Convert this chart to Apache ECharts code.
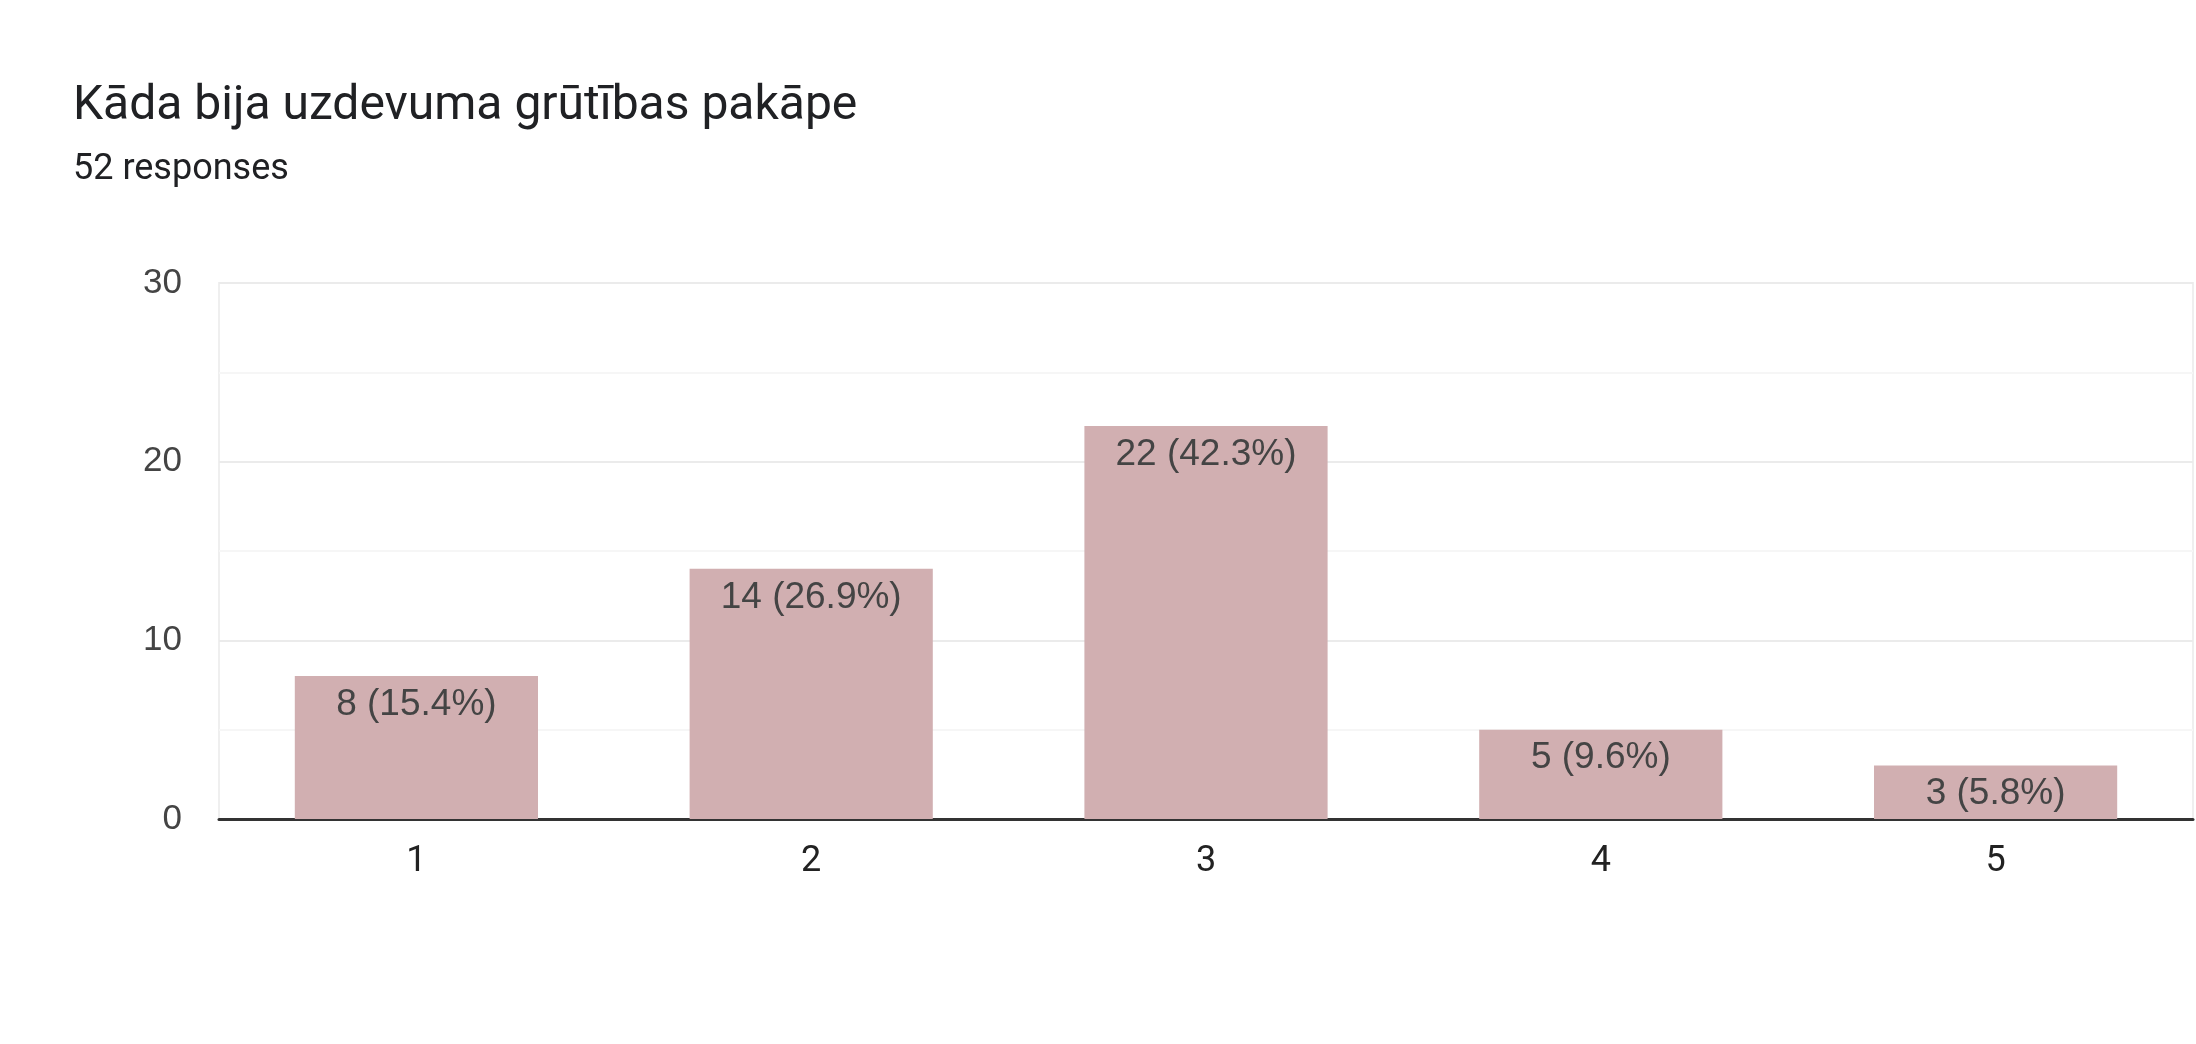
<!DOCTYPE html>
<html>
<head>
<meta charset="utf-8">
<script src="https://cdn.jsdelivr.net/npm/echarts@6/dist/echarts.min.js"></script>
<style>
  html, body { margin: 0; padding: 0; background: #ffffff; }
  #chart { width: 2196px; height: 1044px; }
</style>
</head>
<body>
<div id="chart"></div>
<script>
const titleText = 'Kāda bija uzdevuma grūtības pakāpe';
const subtitleText = '52 responses';
const categories = ['1', '2', '3', '4', '5'];
const counts = [8, 14, 22, 5, 3];
const percentLabels = ['15.4%', '26.9%', '42.3%', '9.6%', '5.8%'];
const yTicks = [0, 10, 20, 30];

const chart = echarts.init(document.getElementById('chart'), null, { renderer: 'canvas' });

chart.setOption({
  animation: false,
  backgroundColor: '#ffffff',
  title: [
    {
      text: titleText,
      left: 73,
      top: 83,
      padding: 0,
      textStyle: { fontFamily: 'Roboto', fontSize: 48, fontWeight: 'normal', color: '#202124' }
    },
    {
      text: subtitleText,
      left: 73,
      top: 152,
      padding: 0,
      textStyle: { fontFamily: 'Roboto', fontSize: 36, fontWeight: 'normal', color: '#202124' }
    }
  ],
  grid: {
    left: 219,
    right: 3,
    top: 283,
    bottom: 225,
    show: true,
    borderColor: '#efefef',
    borderWidth: 2,
    containLabel: false
  },
  xAxis: {
    type: 'category',
    data: categories,
    axisTick: { show: false },
    axisLine: { show: true, lineStyle: { color: '#333333', width: 3 } },
    axisLabel: {
      fontFamily: 'Roboto',
      fontSize: 36,
      color: '#222222',
      margin: 25
    },
    splitLine: { show: false }
  },
  yAxis: {
    type: 'value',
    min: yTicks[0],
    max: yTicks[yTicks.length - 1],
    interval: yTicks[1] - yTicks[0],
    axisLine: { show: false },
    axisTick: { show: false },
    axisLabel: {
      fontFamily: 'Liberation Sans, Arial, sans-serif',
      fontSize: 35,
      color: '#444444',
      margin: 37
    },
    splitLine: { show: true, lineStyle: { color: '#ebebeb', width: 2 } },
    minorTick: { show: false, splitNumber: 2 },
    minorSplitLine: { show: true, lineStyle: { color: '#f6f6f6', width: 2 } }
  },
  series: [
    {
      type: 'bar',
      data: counts,
      barWidth: '61.6%',
      itemStyle: { color: '#d1afb1' },
      label: {
        show: true,
        position: 'insideTop',
        distance: 10,
        fontFamily: 'Liberation Sans, Arial, sans-serif',
        fontSize: 37,
        color: '#444444',
        formatter: function (p) { return p.value + ' (' + percentLabels[p.dataIndex] + ')'; }
      }
    }
  ]
});
</script>
</body>
</html>
